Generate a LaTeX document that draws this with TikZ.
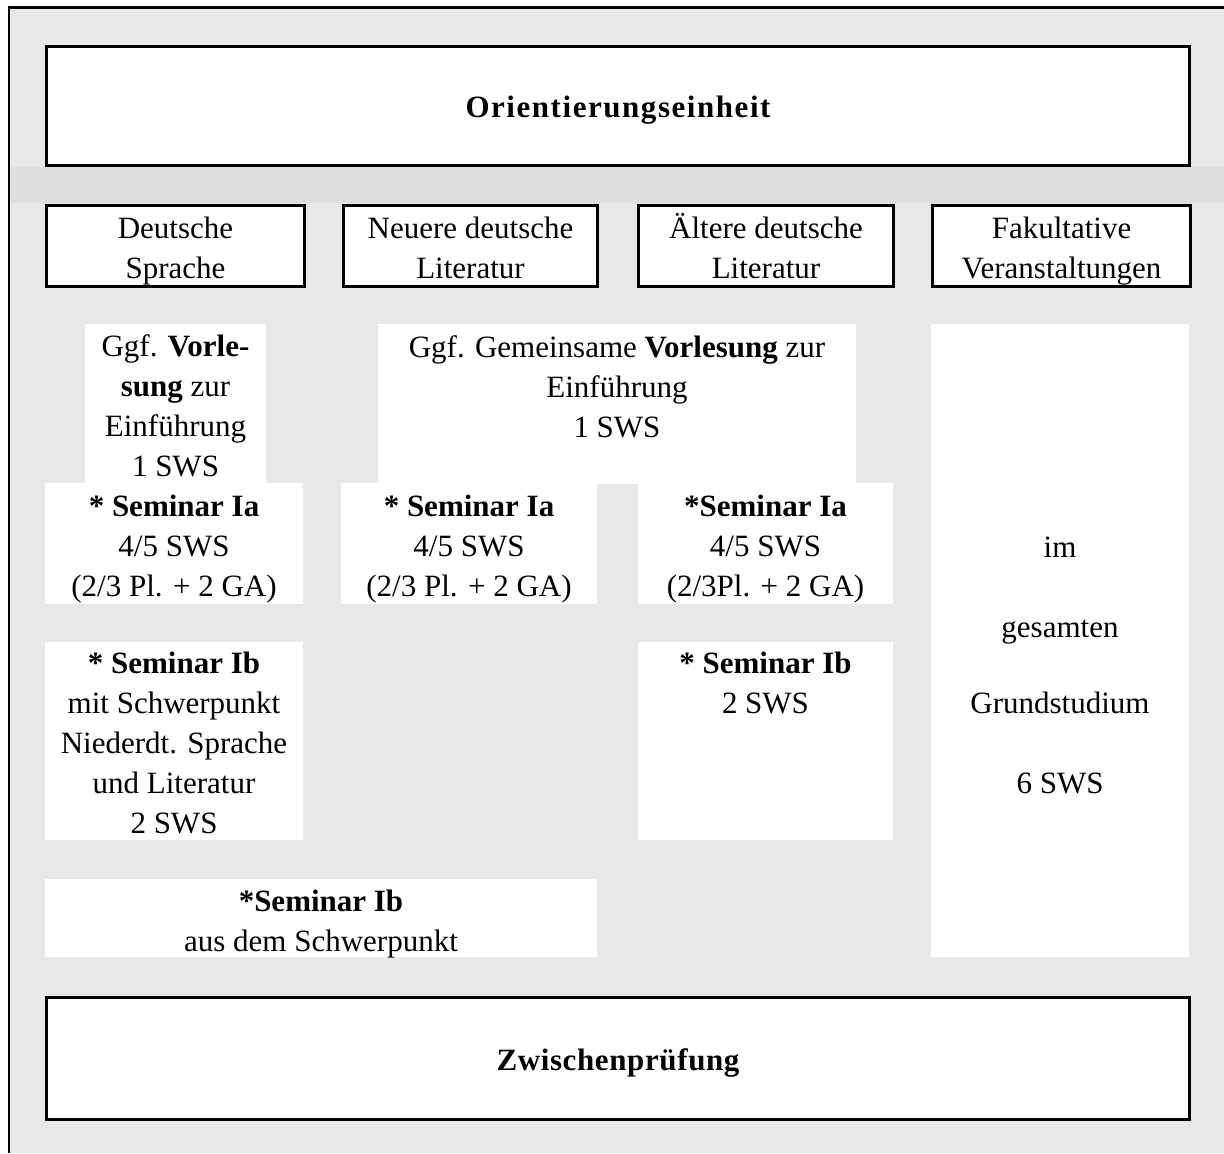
\documentclass[tikz,border=0pt]{standalone}
\usepackage{fontspec}
\setmainfont{Liberation Serif}
\usepackage{xcolor}
\definecolor{bgray}{HTML}{E8E8E8}
\definecolor{band}{HTML}{DFDFDF}
\tikzstyle{box}=[draw, line width=1.5pt, fill=white]
\tikzstyle{cell}=[fill=white]
\tikzstyle{txt}=[align=center, inner sep=0pt, font=\fontsize{15.5}{20}\selectfont]
\tikzstyle{head}=[txt, font=\fontsize{15.5}{20}\selectfont\bfseries\addfontfeature{LetterSpace=5}]

\begin{document}
\begin{tikzpicture}[x=0.5pt, y=-0.5pt]
\useasboundingbox (0,0) rectangle (1224,1153);
% background and frame
\fill[bgray] (8,7) rectangle (1224,1153);
\fill[band] (8,167) rectangle (1224,203);
\draw[line width=1.3pt] (1224,7.5) -- (9,7.5) -- (9,1153);
% top and bottom boxes
\draw[box] (46.5,46.5) rectangle (1189.5,165.5);
\node[head] (oe) at (618,110) {Orientierungseinheit};
\draw[box] (46.5,997.5) rectangle (1189.5,1119.5);
\node[head, font=\fontsize{15.5}{20}\selectfont\bfseries\addfontfeature{LetterSpace=2}] (zp) at (618,1063) {Zwischenprüfung};
% column heads
\draw[box] (46.5,205.5) rectangle (304.5,286.5);
\draw[box] (343.5,205.5) rectangle (597.5,286.5);
\draw[box] (638.5,205.5) rectangle (893.5,286.5);
\draw[box] (932.5,205.5) rectangle (1190.5,286.5);
\node[txt] (ds) at (175.5,251) {Deutsche\\Sprache};
\node[txt] (ndl) at (470.5,248) {Neuere deutsche\\Literatur};
\node[txt] (adl) at (766,246) {Ältere deutsche\\Literatur};
\node[txt] (fv) at (1061.5,251) {Fakultative\\Veranstaltungen};
% white cells
\fill[cell] (85,324) rectangle (266,484);
\fill[cell] (378,324) rectangle (856,484);
\fill[cell] (45,483) rectangle (303,604);
\fill[cell] (341,483) rectangle (597,604);
\fill[cell] (638,483) rectangle (893,604);
\fill[cell] (45,642) rectangle (303,840);
\fill[cell] (638,642) rectangle (893,840);
\fill[cell] (45,879) rectangle (597,957);
\fill[cell] (931,324) rectangle (1189,957);
% texts
\node[txt] (vl1) at (175.5,406) {Ggf. \textbf{Vorle-}\\\textbf{sung} zur\\Einführung\\1 SWS};
\node[txt] (vl2) at (617,387) {Ggf. Gemeinsame \textbf{Vorlesung} zur\\Einführung\\1 SWS};
\node[txt] (sia1) at (174,549) {\textbf{* Seminar Ia}\\4/5 SWS\\(2/3 Pl. + 2 GA)};
\node[txt] (sia2) at (469,549) {\textbf{* Seminar Ia}\\4/5 SWS\\(2/3 Pl. + 2 GA)};
\node[txt] (sia3) at (765.5,549) {\textbf{*Seminar Ia}\\4/5 SWS\\(2/3Pl. + 2 GA)};
\node[txt] (sib1) at (174,743) {\textbf{* Seminar Ib}\\mit Schwerpunkt\\Niederdt. Sprache\\und Literatur\\2 SWS};
\node[txt] (sib2) at (765.5,683) {\textbf{* Seminar Ib}\\2 SWS};
\node[txt] (sib3) at (321,924) {\textbf{*Seminar Ib}\\aus dem Schwerpunkt};
\node[txt] (fak) at (1060,665) {im\\[20pt]gesamten\\[18pt]Grundstudium\\[20pt]6 SWS};
\end{tikzpicture}
\end{document}
